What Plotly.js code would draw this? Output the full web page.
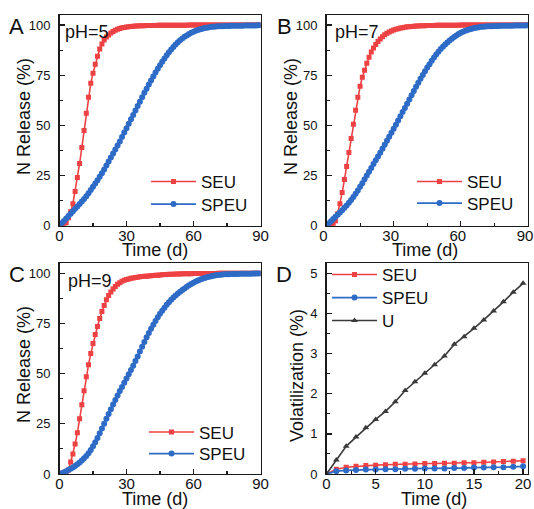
<!DOCTYPE html>
<html><head><meta charset="utf-8">
<script src="https://cdn.plot.ly/plotly-3.0.1.min.js"></script>
<style>html,body{margin:0;padding:0;background:#fff}#chart{width:534px;height:509px}</style>
</head><body><div id="chart"></div>
<script>
// ---------- data ----------
const days = [0,1,2,3,4,5,6,7,8,9,10,11,12,13,14,15,16,17,18,19,20,21,22,23,24,25,26,27,28,29,30,31,32,33,34,35,36,37,38,39,40,41,42,43,44,45,46,47,48,49,50,51,52,53,54,55,56,57,58,59,60,61,62,63,64,65,66,67,68,69,70,71,72,73,74,75,76,77,78,79,80,81,82,83,84,85,86,87,88,89,90];

const seuA = [0,0,0,1.5,4,7,11,17,24,31,
  39,47.5,56,64,71,76,80.5,84.5,88,90.5,
  92.5,94,95,96,96.8,97.4,97.9,98.3,98.6,98.8,
  99,99.15,99.3,99.4,99.5,99.55,99.6,99.65,99.7,99.72,
  99.75,99.77,99.79,99.81,99.83,99.85,99.86,99.87,99.88,99.89,
  99.9,99.91,99.92,99.93,99.94,99.94,99.95,99.95,99.96,99.96,
  99.97,99.97,99.97,99.98,99.98,99.98,99.98,99.99,99.99,99.99,
  99.99,99.99,100,100,100,100,100,100,100,100,
  100,100,100,100,100,100,100,100,100,100,100];
const speuA = [0,1.2,2.4,3.6,4.8,6,7.2,8.4,9.6,10.8,
  12,13.3,14.7,16.2,17.8,19.4,21,22.7,24.4,26.2,
  28,30,32,34,36,38,40,42,44.2,46.4,
  48.6,50.8,53,55.2,57.4,59.6,61.8,64,66.2,68.3,
  70.4,72.4,74.4,76.3,78.2,80,81.7,83.3,84.9,86.4,
  87.8,89.1,90.3,91.4,92.4,93.3,94.1,94.8,95.5,96.1,
  96.6,97.1,97.5,97.9,98.2,98.5,98.7,98.9,99.1,99.2,
  99.3,99.35,99.4,99.45,99.5,99.53,99.56,99.59,99.62,99.64,
  99.66,99.68,99.7,99.72,99.74,99.76,99.78,99.8,99.82,99.84,99.85];

const seuB = [0,0,0,0.5,2.5,6,11,16.5,23,29.5,
  36.5,43.5,50.5,57.5,64,69.5,74,77.5,81,84,
  86.5,88.5,90.3,91.8,93.1,94.2,95.1,95.9,96.5,97,
  97.5,97.9,98.2,98.5,98.7,98.9,99.1,99.2,99.3,99.4,
  99.5,99.55,99.6,99.65,99.7,99.73,99.76,99.79,99.81,99.83,
  99.85,99.87,99.88,99.9,99.91,99.92,99.93,99.94,99.95,99.95,
  99.96,99.96,99.97,99.97,99.97,99.98,99.98,99.98,99.99,99.99,
  99.99,99.99,100,100,100,100,100,100,100,100,
  100,100,100,100,100,100,100,100,100,100,100];
const speuB = [0,1.1,2.2,3.3,4.4,5.5,6.6,7.7,8.9,10.1,
  11.4,12.8,14.3,15.9,17.6,19.4,21.2,23.1,25,26.9,
  28.8,30.7,32.6,34.5,36.4,38.3,40.3,42.3,44.3,46.3,
  48.3,50.3,52.4,54.5,56.6,58.7,60.8,62.9,65,67.1,
  69.2,71.2,73.2,75.1,77,78.8,80.5,82.2,83.8,85.3,
  86.7,88,89.2,90.3,91.3,92.3,93.2,94,94.8,95.5,
  96.1,96.6,97.1,97.5,97.9,98.2,98.5,98.7,98.9,99.1,
  99.2,99.3,99.35,99.4,99.45,99.5,99.53,99.56,99.59,99.62,
  99.64,99.66,99.68,99.7,99.72,99.74,99.76,99.78,99.8,99.82,99.84];

const seuC = [0,0,0,0.5,2,6,10,15,20.5,27.5,
  34.5,41.5,48.5,54.5,60,65,69.5,73.5,77.5,81,
  84,86.8,89,90.7,92.2,93.5,94.5,95.3,96,96.5,
  96.9,97.2,97.5,97.7,97.9,98.1,98.3,98.4,98.5,98.6,
  98.7,98.8,98.9,99,99.1,99.2,99.3,99.4,99.45,99.5,
  99.55,99.6,99.65,99.7,99.72,99.75,99.78,99.8,99.82,99.85,
  99.87,99.88,99.9,99.91,99.92,99.93,99.94,99.95,99.96,99.97,
  99.97,99.98,99.98,99.99,99.99,100,100,100,100,100,
  100,100,100,100,100,100,100,100,100,100,100];
const speuC = [0,0.4,0.9,1.4,2,2.6,3.3,4,4.8,5.7,
  6.7,7.8,9,10.4,12,13.8,15.8,18,20.3,22.7,
  25.1,27.5,29.9,32.3,34.6,36.9,39.1,41.3,43.4,45.5,
  47.6,49.7,51.8,54,56.3,58.6,61,63.4,65.8,68.1,
  70.3,72.4,74.4,76.3,78.1,79.8,81.4,82.9,84.3,85.6,
  86.8,87.9,88.9,89.9,90.8,91.7,92.5,93.3,94,94.7,
  95.3,95.9,96.4,96.9,97.3,97.7,98,98.3,98.6,98.8,
  99,99.2,99.3,99.4,99.5,99.55,99.6,99.63,99.66,99.69,
  99.72,99.74,99.76,99.78,99.8,99.82,99.84,99.86,99.88,99.9,99.9];

const daysD = [0,1,2,3,4,5,6,7,8,9,10,11,12,13,14,15,16,17,18,19,20];
const seuD  = [0,0.12,0.17,0.19,0.21,0.22,0.23,0.24,0.24,0.25,0.26,0.26,0.27,0.27,0.28,0.28,0.29,0.30,0.31,0.32,0.33];
const speuD = [0,0.07,0.09,0.10,0.11,0.11,0.12,0.12,0.13,0.13,0.14,0.14,0.14,0.15,0.15,0.16,0.16,0.17,0.17,0.18,0.19];
const uD    = [0,0.35,0.69,0.92,1.15,1.36,1.56,1.80,2.08,2.30,2.51,2.72,2.94,3.23,3.42,3.63,3.84,4.06,4.29,4.53,4.75];

const seriesNames = ['SEU','SPEU','U'];
const panelLetters = ['A','B','C','D'];
const phLabels = ['pH=5','pH=7','pH=9'];
const xTitle = 'Time (d)';
const yTitleRelease = 'N Release (%)';
const yTitleVol = 'Volatilization (%)';

// ---------- styling ----------
const W = 534, H = 509;
const RED = '#EE4143', BLUE = '#2E6BC6', DARK = '#3A3A3A';
const FONT = 'Liberation Sans, Arial, Helvetica, sans-serif';
const fx = v => v / W, fy = v => 1 - v / H;

const colL = [fx(59.5), fx(260.5)], colR = [fx(326.5), fx(528)];
const rowT = [fy(225.7), fy(15)],  rowB = [fy(474), fy(263.3)];

function ax(domain, range, dtick, mdtick, anchor, isX, extra) {
  return Object.assign({
    domain, range, dtick, tick0: 0, anchor,
    showline: true, linecolor: '#1a1a1a', linewidth: 1.4, mirror: true,
    ticks: 'inside', ticklen: 5, tickwidth: 1.3, tickcolor: '#1a1a1a',
    minor: {ticks: 'inside', ticklen: 3, tickwidth: 1.1, dtick: mdtick, tick0: 0, tickcolor: '#1a1a1a'},
    showgrid: false, zeroline: false,
    tickfont: {size: isX ? 15 : 13, color: '#111', family: FONT},
    ticklabeloverflow: 'allow',
    ticklabelstandoff: isX ? -4 : 5,
    fixedrange: true
  }, extra || {});
}

function seu(x, y, xa, ya, lg) {
  return {x, y, xaxis: xa, yaxis: ya, legend: lg, name: seriesNames[0], type: 'scatter', mode: 'lines+markers',
    line: {color: RED, width: 1.6}, marker: {symbol: 'square', size: 5, color: RED}};
}
function speu(x, y, xa, ya, lg) {
  return {x, y, xaxis: xa, yaxis: ya, legend: lg, name: seriesNames[1], type: 'scatter', mode: 'lines+markers',
    line: {color: BLUE, width: 1.8}, marker: {symbol: 'circle', size: 6, color: BLUE}};
}

const traces = [
  seu(days, seuA, 'x', 'y', 'legend'),    speu(days, speuA, 'x', 'y', 'legend2'),
  seu(days, seuB, 'x2', 'y2', 'legend3'), speu(days, speuB, 'x2', 'y2', 'legend4'),
  seu(days, seuC, 'x3', 'y3', 'legend5'), speu(days, speuC, 'x3', 'y3', 'legend6'),
  seu(daysD, seuD, 'x4', 'y4', 'legend7'), speu(daysD, speuD, 'x4', 'y4', 'legend8'),
  {x: daysD, y: uD, xaxis: 'x4', yaxis: 'y4', legend: 'legend9', name: seriesNames[2], type: 'scatter', mode: 'lines+markers',
    line: {color: DARK, width: 1.6}, marker: {symbol: 'triangle-up', size: 6, color: DARK}}
];

// one-entry legends, placed by line start (x) and row centre (y)
function lg(xp, yp) {
  return {x: fx(xp - 6), y: fy(yp), xanchor: 'left', yanchor: 'middle', xref: 'paper', yref: 'paper',
    bgcolor: 'rgba(0,0,0,0)', borderwidth: 0, font: {size: 17, color: '#111', family: FONT},
    itemwidth: 45, tracegroupgap: 0, itemclick: false, itemdoubleclick: false};
}

function ann(text, xp, yp, size, opts) {
  return Object.assign({text, x: fx(xp), y: fy(yp), xref: 'paper', yref: 'paper', showarrow: false,
    xanchor: 'center', yanchor: 'middle', font: {size, color: '#111', family: FONT}}, opts || {});
}

const annotations = [
  ann(panelLetters[0], 16, 26, 22), ann(panelLetters[1], 284, 26, 22),
  ann(panelLetters[2], 17, 274, 22), ann(panelLetters[3], 284, 274, 22),
  ann(phLabels[0], 63, 32, 18, {xanchor: 'left'}),
  ann(phLabels[1], 333, 32, 18, {xanchor: 'left'}),
  ann(phLabels[2], 66, 281, 18, {xanchor: 'left'}),
  ann(yTitleRelease, 24, 117, 18, {textangle: -90}),
  ann(yTitleRelease, 291, 117, 18, {textangle: -90}),
  ann(yTitleRelease, 24, 365, 18, {textangle: -90}),
  ann(yTitleVol, 297, 376, 18, {textangle: -90}),
  ann(xTitle, 155, 250, 18), ann(xTitle, 425, 250, 18),
  ann(xTitle, 155, 498.5, 18), ann(xTitle, 434, 498.5, 18)
];

const layout = {
  width: W, height: H, margin: {l: 0, r: 0, t: 0, b: 0},
  paper_bgcolor: '#fff', plot_bgcolor: '#fff',
  font: {family: FONT, color: '#111'},
  xaxis:  ax(colL, [0, 90], 30, 15, 'y', true),
  yaxis:  ax(rowT, [0, 105], 25, 12.5, 'x'),
  xaxis2: ax(colR, [0, 90], 30, 15, 'y2', true, {ticklabelshift: -3}),
  yaxis2: ax(rowT, [0, 105], 25, 12.5, 'x2'),
  xaxis3: ax(colL, [0, 90], 30, 15, 'y3', true),
  yaxis3: ax(rowB, [0, 105], 25, 12.5, 'x3'),
  xaxis4: ax(colR, [0, 20.5], 5, 2.5, 'y4', true),
  yaxis4: ax(rowB, [0, 5.25], 1, 0.5, 'x4'),
  legend:  lg(152, 182),
  legend2: lg(152, 204.5),
  legend3: lg(418, 182),
  legend4: lg(418, 203.5),
  legend5: lg(150, 432.5),
  legend6: lg(150, 454),
  legend7: lg(333, 275),
  legend8: lg(333, 298),
  legend9: lg(333, 321),
  annotations,
  showlegend: true
};

Plotly.newPlot('chart', traces, layout, {staticPlot: true, displayModeBar: false});
</script>
</body></html>
